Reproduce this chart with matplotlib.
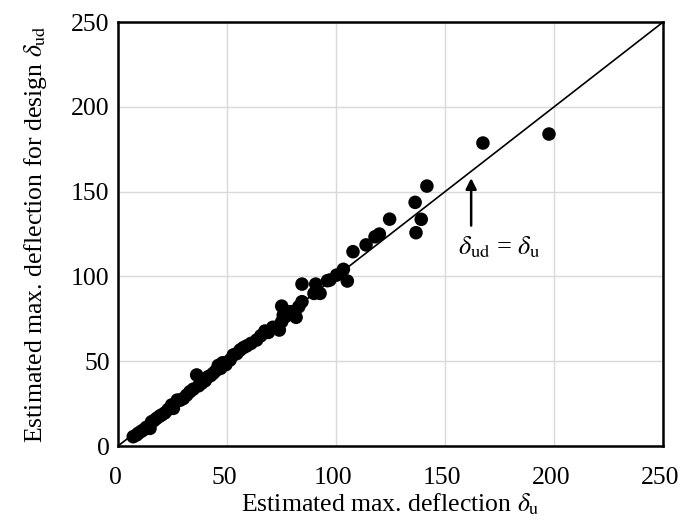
import matplotlib
matplotlib.use("Agg")
import matplotlib.pyplot as plt
from matplotlib.transforms import ScaledTranslation

# Estimated maximum deflection (delta_u) and design value (delta_ud)
delta_u = [
    7.0, 8.5, 9.3, 10.5, 11.6, 13.0, 14.7, 15.4, 16.5, 17.7, 19.0, 20.0,
    21.5, 23.0, 24.6, 25.4, 27.2, 28.5, 30.0, 31.5, 33.0, 34.5, 36.1, 37.0,
    38.4, 40.0, 41.4, 42.5, 43.7, 45.0, 46.0, 47.1, 48.0, 49.5, 51.4, 52.9,
    54.5, 56.0, 57.5, 59.0, 61.0, 63.6, 65.5, 67.4, 69.0, 71.0, 72.5, 74.0,
    75.1, 75.1, 75.8, 77.0, 79.0, 80.7, 81.7, 82.9, 84.4, 84.4, 89.9, 90.7,
    92.7, 96.1, 97.2, 100.3, 103.4, 105.2, 107.8, 113.8, 117.9, 119.9,
    124.6, 136.3, 136.7, 139.1, 141.7, 167.4, 197.7,
]
delta_ud = [
    5.5, 6.5, 7.5, 8.5, 9.4, 11.0, 10.4, 14.3, 15.0, 16.3, 17.5, 18.3,
    19.5, 21.5, 24.2, 22.2, 27.1, 27.0, 28.0, 30.0, 32.0, 33.5, 41.9, 35.5,
    37.0, 38.5, 40.9, 41.5, 42.9, 44.5, 47.5, 45.8, 49.1, 48.0, 50.7, 53.7,
    54.5, 56.6, 58.0, 59.0, 60.5, 62.5, 65.0, 67.8, 67.0, 70.0, 70.0, 68.4,
    73.3, 82.5, 77.2, 76.5, 79.2, 79.2, 75.9, 82.1, 85.1, 95.5, 90.0, 95.5,
    90.0, 97.5, 97.9, 100.8, 104.2, 97.3, 114.6, 118.6, 123.4, 125.0,
    133.8, 143.7, 125.8, 133.7, 153.3, 178.7, 184.0,
]

ticks = [0, 50, 100, 150, 200, 250]
ref_line = [0, 250]

plt.rcParams["font.family"] = ["Liberation Serif", "DejaVu Serif"]
plt.rcParams["mathtext.fontset"] = "stix"

fig = plt.figure(figsize=(6.80, 5.27), dpi=100)
ax = fig.add_axes([0.1735, 0.1537, 0.8015, 0.8043])

ax.grid(True, color="#d9d9d9", linewidth=1.0, zorder=0)
ax.set_axisbelow(True)

ax.plot(ref_line, ref_line, color="black", linewidth=1.2, zorder=2)
ax.scatter(delta_u, delta_ud, s=95, color="black", edgecolors="none", zorder=3)

ax.annotate("", xy=(162, 158), xytext=(162, 130),
            arrowprops=dict(arrowstyle="-|>", color="black", lw=1.8,
                            mutation_scale=16, shrinkA=0, shrinkB=0))
ax.text(175, 117, r"$\delta_{\mathrm{ud}}$ = $\delta_{\mathrm{u}}$",
        ha="center", va="center", fontsize=19)

ax.set_xlim(0, 250)
ax.set_ylim(0, 250)
ax.set_xticks(ticks)
ax.set_yticks(ticks)
ax.tick_params(axis="both", length=0, labelsize=18.5)
ax.tick_params(axis="x", pad=15)
ax.tick_params(axis="y", pad=6)

# nudge x tick labels slightly left so the last one stays inside the figure
shift = ScaledTranslation(-3 / 100, 0, fig.dpi_scale_trans)
for lbl in ax.get_xticklabels():
    lbl.set_transform(lbl.get_transform() + shift)

for sp in ax.spines.values():
    sp.set_color("black")
    sp.set_linewidth(1.8)

ax.set_xlabel(r"Estimated max. deflection $\delta_{\mathrm{u}}$", fontsize=18.5, labelpad=2)
ax.set_ylabel(r"Estimated max. deflection for design $\delta_{\mathrm{ud}}$", fontsize=18.5, labelpad=16)

fig.savefig("out.png", dpi=100)
